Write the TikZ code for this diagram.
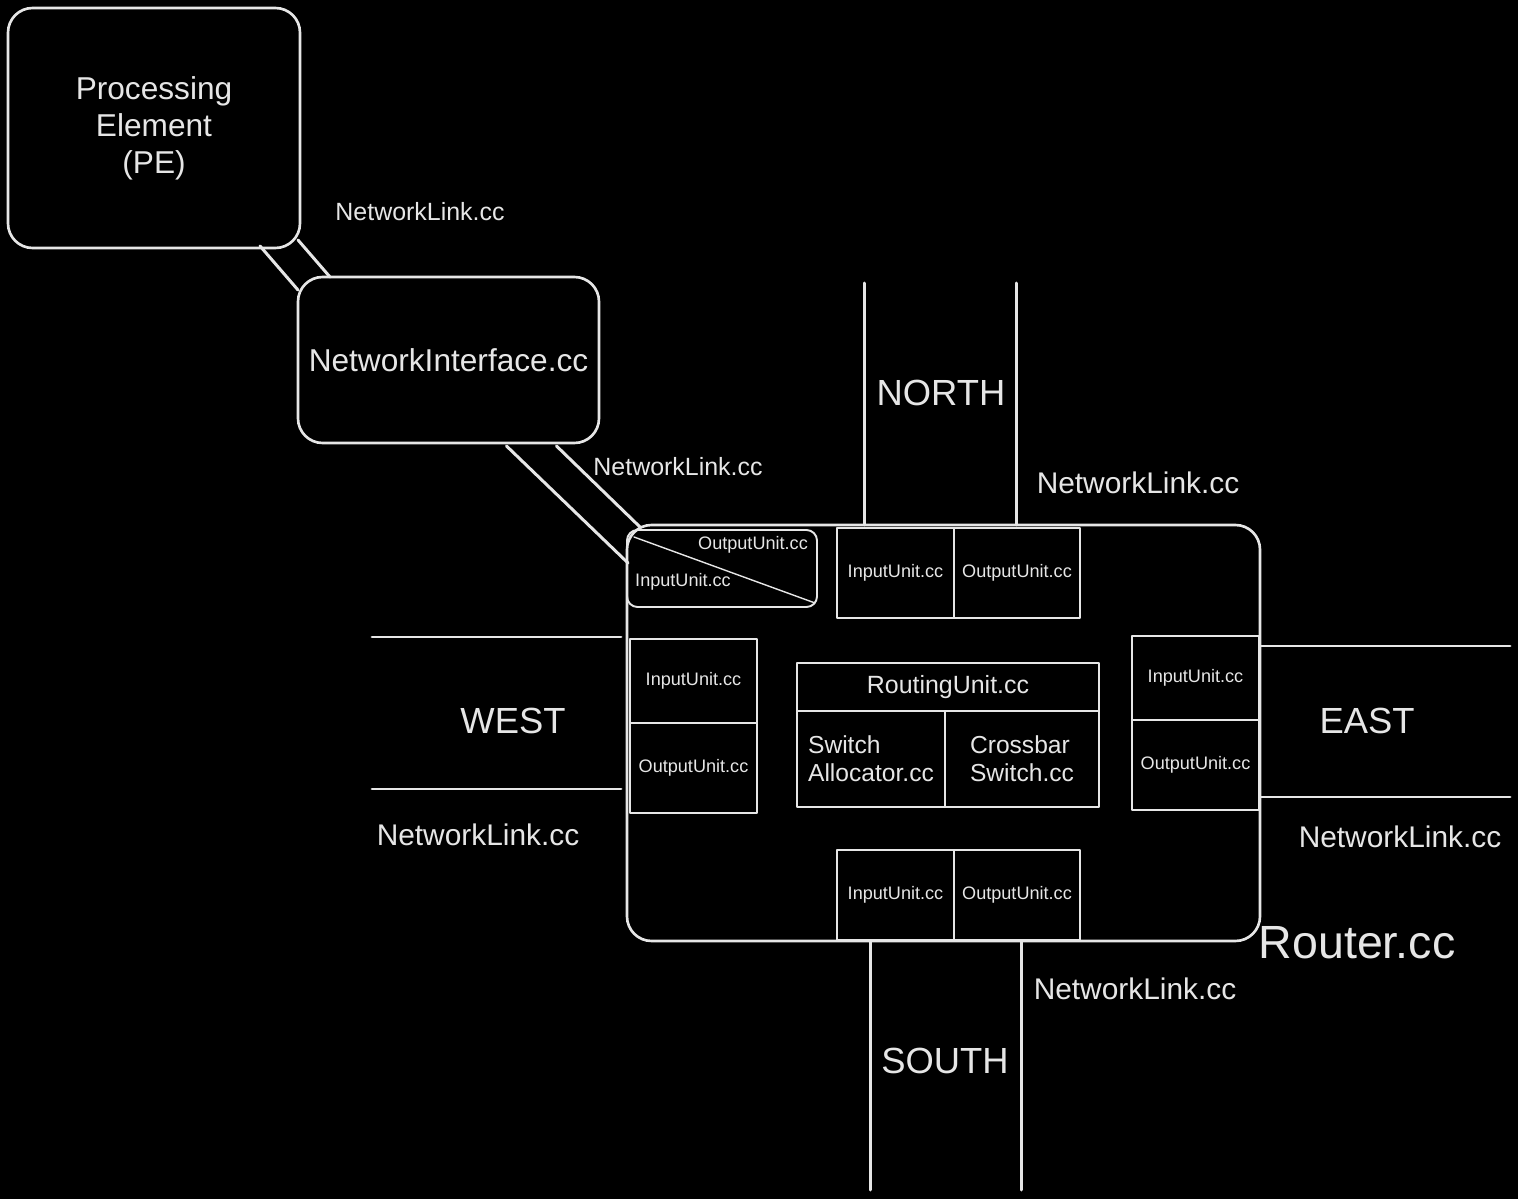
\documentclass[tikz,border=0pt]{standalone}
\usepackage{fontspec}
\setmainfont{Liberation Sans}
\usetikzlibrary{positioning}
\definecolor{fg}{HTML}{E6E6E6}

\begin{document}
\begin{tikzpicture}[line cap=round,line join=round,x=0.02cm,y=-0.02cm,
  every node/.style={text=fg,inner sep=0pt,outer sep=0pt},
  sz/.style 2 args={minimum width=#1*0.02cm,minimum height=#2*0.02cm},
  rbox/.style={draw=fg,line width=1.5pt,rounded corners=14pt},
  unit/.style={draw=fg,line width=1.1pt,font=\fontsize{10.3}{12}\selectfont},
  link/.style={draw=fg,line width=1.7pt},
  dir/.style={font=\fontsize{20.7}{24}\selectfont},
  lnk/.style={font=\fontsize{17}{20}\selectfont},
  lnks/.style={font=\fontsize{14.2}{17}\selectfont}]

\fill[black] (0,0) rectangle (1518,1199);

% PE and network interface
\node[rbox,sz={292}{240},align=center,font=\fontsize{18}{21}\selectfont] (pe) at (154,128) {Processing\\Element\\(PE)};
\node[rbox,sz={301}{166},font=\fontsize{18}{21}\selectfont] (ni) at (448.5,360) {NetworkInterface.cc};
\draw[link] ([shift={(-40,-2)}]pe.south east) -- ([shift={(0,13)}]ni.north west);
\draw[link] ([shift={(-2,-8)}]pe.south east) -- ([shift={(32,0)}]ni.north west);
\node[lnks] (l1) at (420,212) {NetworkLink.cc};

% router
\node[rbox,sz={633}{416}] (router) at (943.5,733) {};
\draw[link] ([shift={(58,3)}]ni.south) -- ([shift={(1,38)}]router.north west);
\draw[link] ([shift={(108,3)}]ni.south) -- ([shift={(13,2)}]router.north west);
\node[lnks] (l2) at (678,467) {NetworkLink.cc};

% local port
\node[draw=fg,line width=1.1pt,rounded corners=6pt,sz={190}{77}] (loc) at (722,568.5) {};
\draw[fg,line width=0.8pt] (634,537) -- (815,603);
\node[font=\fontsize{10.3}{12}\selectfont] (locout) at (753,545) {OutputUnit.cc};
\node[font=\fontsize{10.3}{12}\selectfont] (locin) at (683,582) {InputUnit.cc};

% north
\node[unit,sz={117}{90}] (nin) at (895.5,573) {InputUnit.cc};
\node[unit,sz={126}{90}] (nout) at (1017,573) {OutputUnit.cc};
\coordinate (n1) at (864,283);
\coordinate (n2) at (1016,283);
\draw[link] (n1) -- (n1 |- router.north);
\draw[link] (n2) -- (n2 |- router.north);
\node[dir] (north) at (941,393) {NORTH};
\node[lnk] (l3) at (1138,483) {NetworkLink.cc};

% west
\node[unit,sz={127}{84}] (win) at (693.5,681) {InputUnit.cc};
\node[unit,sz={127}{90}] (wout) at (693.5,768) {OutputUnit.cc};
\coordinate (w1) at (372,637);
\coordinate (w2) at (372,789);
\draw[link] (w1) -- ([xshift=-0.12cm]w1 -| router.west);
\draw[link] (w2) -- ([xshift=-0.12cm]w2 -| router.west);
\node[dir] (west) at (513,721) {WEST};
\node[lnk] (l4) at (478,835) {NetworkLink.cc};

% east
\node[unit,sz={127}{84}] (ein) at (1195.5,678) {InputUnit.cc};
\node[unit,sz={127}{90}] (eout) at (1195.5,765) {OutputUnit.cc};
\coordinate (e1) at (1510,646);
\coordinate (e2) at (1510,797);
\draw[link] (e1) -- (e1 -| router.east);
\draw[link] (e2) -- (e2 -| router.east);
\node[dir] (east) at (1367,721) {EAST};
\node[lnk] (l5) at (1400,837) {NetworkLink.cc};

% south
\node[unit,sz={117}{90}] (sin) at (895.5,895) {InputUnit.cc};
\node[unit,sz={126}{90}] (sout) at (1017,895) {OutputUnit.cc};
\coordinate (s1) at (870,1190);
\coordinate (s2) at (1021,1190);
\draw[link] (s1) -- (s1 |- router.south);
\draw[link] (s2) -- (s2 |- router.south);
\node[dir] (south) at (945,1061) {SOUTH};
\node[lnk] (l6) at (1135,989) {NetworkLink.cc};

% routing, allocation, crossbar
\node[unit,sz={302}{48},font=\fontsize{14.2}{17}\selectfont] (ru) at (948,687) {RoutingUnit.cc};
\node[unit,sz={148}{96},align=left,font=\fontsize{14}{16}\selectfont] (sa) at (871,759) {Switch\\Allocator.cc};
\node[unit,sz={154}{96},align=left,font=\fontsize{14}{16}\selectfont] (cs) at (1022,759) {Crossbar\\Switch.cc};

\node[font=\fontsize{26.5}{30}\selectfont] (rname) at (1357,943) {Router.cc};
\end{tikzpicture}
\end{document}
